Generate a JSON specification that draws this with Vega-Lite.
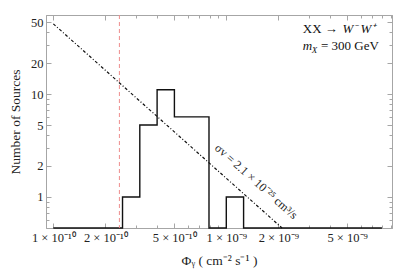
{
  "$schema": "https://vega.github.io/schema/vega-lite/v6.json",
  "width": 346,
  "height": 213,
  "autosize": {"type": "none"},
  "padding": {"left": 46, "top": 15, "right": 15, "bottom": 43},
  "background": "white",
  "config": {
    "view": {"stroke": "#a6a6a6", "strokeWidth": 1},
    "font": "Liberation Serif",
    "axis": {
      "grid": false,
      "domainColor": "#a6a6a6",
      "tickColor": "#a6a6a6",
      "labelFont": "Liberation Serif",
      "labelFontSize": 12.5,
      "labelColor": "#222222",
      "titleFont": "Liberation Serif",
      "titleFontSize": 13.5,
      "titleFontWeight": "normal",
      "titleColor": "#222222"
    }
  },
  "datasets": {
    "hist": [
      {"phi": 1e-10, "count": 0},
      {"phi": 2.512e-10, "count": 1},
      {"phi": 3.162e-10, "count": 5},
      {"phi": 3.981e-10, "count": 11},
      {"phi": 5.012e-10, "count": 6},
      {"phi": 7.943e-10, "count": 0},
      {"phi": 1e-9, "count": 1},
      {"phi": 1.259e-9, "count": 0},
      {"phi": 7.943e-9, "count": 0}
    ],
    "powerlaw": [
      {"phi": 1e-10, "n": 48},
      {"phi": 2.1e-9, "n": 0.5}
    ],
    "limit": [{"phi": 2.41e-10}],
    "lineLabel": [{"phi": 1.49e-9, "n": 1.42, "text": "σv = 2.1 × 10⁻²⁵ cm³/s"}],
    "annotUpright": [
      {"phi": 2.77e-9, "n": 39.1, "text": "XX →"},
      {"phi": 3.53e-9, "n": 26.7, "text": "=  300 GeV"}
    ],
    "annotItalic": [
      {"phi": 4.7e-9, "n": 39.1, "text": "W⁻ W⁺"},
      {"phi": 2.77e-9, "n": 26.7, "text": "m"}
    ],
    "annotSub": [
      {"phi": 3.12e-9, "n": 25.0, "text": "X"}
    ]
  },
  "resolve": {"axis": {"x": "independent", "y": "independent"}},
  "layer": [
    {
      "data": {"name": "hist"},
      "mark": {"type": "line", "interpolate": "step-after", "color": "#111111", "strokeWidth": 1.4, "invalid": "show"},
      "encoding": {
        "x": {
          "field": "phi", "type": "quantitative",
          "scale": {"type": "log", "domain": [9.07e-11, 9.08e-9], "nice": false, "clamp": true},
          "axis": {
            "orient": "bottom",
            "title": "Φᵧ ( cm⁻² s⁻¹ )",
            "titlePadding": 8,
            "values": [1e-10, 2e-10, 3e-10, 4e-10, 5e-10, 6e-10, 7e-10, 8e-10, 9e-10, 1e-9, 2e-9, 3e-9, 4e-9, 5e-9, 6e-9, 7e-9, 8e-9, 9e-9],
            "labelExpr": "datum.value == 1e-10 ? '1 × 10⁻¹⁰' : datum.value == 2e-10 ? '2 × 10⁻¹⁰' : datum.value == 5e-10 ? '5 × 10⁻¹⁰' : datum.value == 1e-9 ? '1 × 10⁻⁹' : datum.value == 2e-9 ? '2 × 10⁻⁹' : datum.value == 5e-9 ? '5 × 10⁻⁹' : ''",
            "labelFlush": false,
            "labelOverlap": false,
            "tickSize": {"condition": {"test": "indexof([1e-10,2e-10,5e-10,1e-9,2e-9,5e-9], datum.value) >= 0", "value": -5}, "value": -3},
            "labelPadding": 8
          }
        },
        "y": {
          "field": "count", "type": "quantitative",
          "scale": {"type": "log", "domain": [0.5, 58.5], "nice": false, "clamp": true},
          "axis": {
            "orient": "left",
            "title": "Number of Sources",
            "titlePadding": 8,
            "values": [0.6, 0.7, 0.8, 0.9, 1, 2, 3, 4, 5, 6, 7, 8, 9, 10, 20, 30, 40, 50],
            "labelExpr": "indexof([1,2,5,10,20,50], datum.value) >= 0 ? datum.value + '' : ''",
            "labelOverlap": false,
            "labelFlush": false,
            "tickSize": {"condition": {"test": "indexof([1,2,5,10,20,50], datum.value) >= 0", "value": -5}, "value": -3},
            "labelPadding": 8
          }
        }
      }
    },
    {
      "data": {"name": "powerlaw"},
      "mark": {"type": "line", "color": "#111111", "strokeWidth": 1.2, "strokeDash": [3, 2, 1, 2]},
      "encoding": {
        "x": {
          "field": "phi", "type": "quantitative",
          "axis": {
            "orient": "top", "title": null, "labels": false,
            "values": [1e-10, 2e-10, 3e-10, 4e-10, 5e-10, 6e-10, 7e-10, 8e-10, 9e-10, 1e-9, 2e-9, 3e-9, 4e-9, 5e-9, 6e-9, 7e-9, 8e-9, 9e-9],
            "tickSize": {"condition": {"test": "indexof([1e-10,2e-10,5e-10,1e-9,2e-9,5e-9], datum.value) >= 0", "value": -5}, "value": -3}
          }
        },
        "y": {
          "field": "n", "type": "quantitative",
          "axis": {
            "orient": "right", "title": null, "labels": false,
            "values": [0.6, 0.7, 0.8, 0.9, 1, 2, 3, 4, 5, 6, 7, 8, 9, 10, 20, 30, 40, 50],
            "tickSize": {"condition": {"test": "indexof([1,2,5,10,20,50], datum.value) >= 0", "value": -5}, "value": -3}
          }
        }
      }
    },
    {
      "data": {"name": "limit"},
      "mark": {"type": "rule", "color": "#ee8c8c", "strokeWidth": 1, "strokeDash": [4, 3]},
      "encoding": {
        "x": {"field": "phi", "type": "quantitative", "axis": null}
      }
    },
    {
      "data": {"name": "lineLabel"},
      "mark": {"type": "text", "angle": 41.8, "fontSize": 12, "font": "Liberation Serif", "color": "#222222", "align": "center", "baseline": "middle"},
      "encoding": {
        "x": {"field": "phi", "type": "quantitative", "axis": null},
        "y": {"field": "n", "type": "quantitative", "axis": null},
        "text": {"field": "text"}
      }
    },
    {
      "data": {"name": "annotUpright"},
      "mark": {"type": "text", "fontSize": 13, "font": "Liberation Serif", "color": "#111111", "align": "left", "baseline": "alphabetic"},
      "encoding": {
        "x": {"field": "phi", "type": "quantitative", "axis": null},
        "y": {"field": "n", "type": "quantitative", "axis": null},
        "text": {"field": "text"}
      }
    },
    {
      "data": {"name": "annotItalic"},
      "mark": {"type": "text", "fontSize": 13, "font": "Liberation Serif", "fontStyle": "italic", "color": "#111111", "align": "left", "baseline": "alphabetic"},
      "encoding": {
        "x": {"field": "phi", "type": "quantitative", "axis": null},
        "y": {"field": "n", "type": "quantitative", "axis": null},
        "text": {"field": "text"}
      }
    },
    {
      "data": {"name": "annotSub"},
      "mark": {"type": "text", "fontSize": 9, "font": "Liberation Serif", "fontStyle": "italic", "color": "#111111", "align": "left", "baseline": "alphabetic"},
      "encoding": {
        "x": {"field": "phi", "type": "quantitative", "axis": null},
        "y": {"field": "n", "type": "quantitative", "axis": null},
        "text": {"field": "text"}
      }
    }
  ]
}
